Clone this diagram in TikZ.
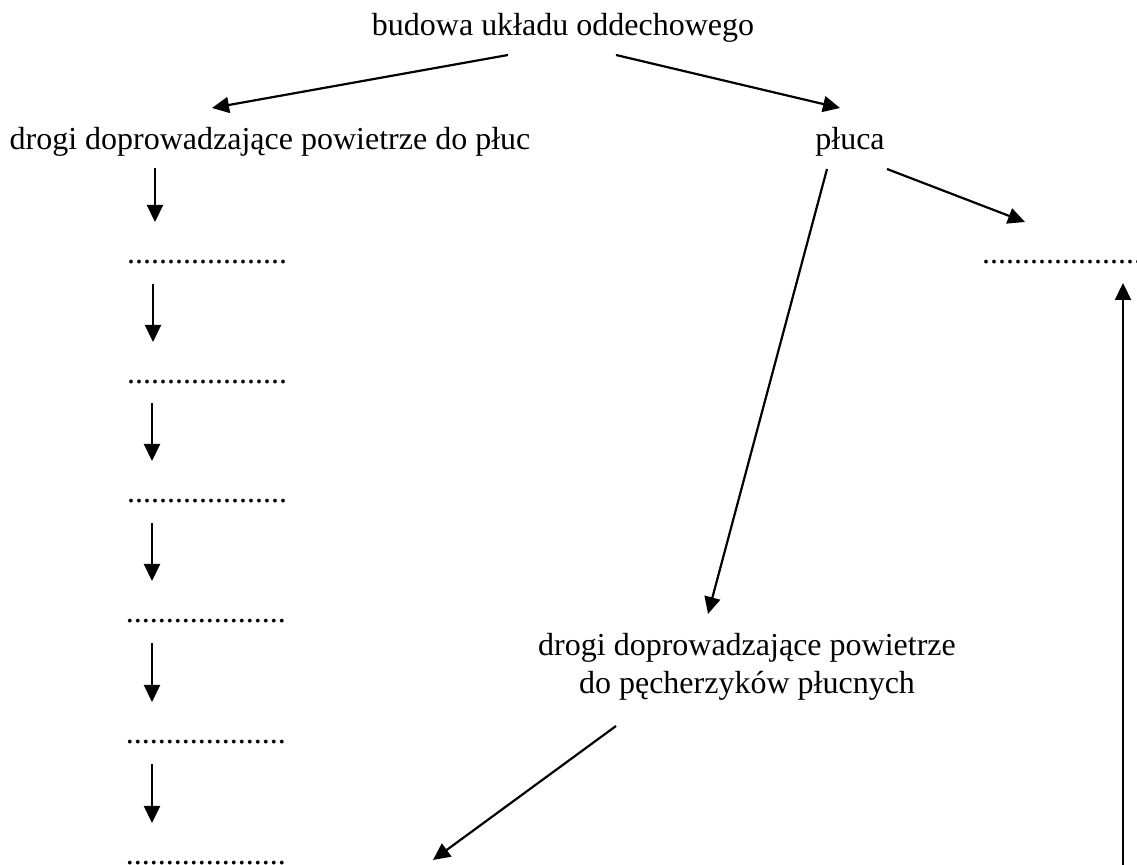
\documentclass[tikz,border=0pt]{standalone}
\usepackage{fontspec}
\setmainfont{Liberation Serif}
\usetikzlibrary{arrows.meta,calc}
\newcommand{\luka}{....................}

\begin{document}
\begin{tikzpicture}[->,
		>={Triangle[length=8.5pt,width=8pt]},
		x=0.5pt, y=-0.5pt,
		line width=1.1pt,
		font=\fontsize{16}{19}\selectfont,
		txtnode/.style={inner sep=0pt, anchor=base},
		luknode/.style={inner sep=0pt, anchor=base},
		twonode/.style={inner sep=0pt, align=center}]
		
		\useasboundingbox (0,0) rectangle (1137,865);
		
		\node[txtnode] (uklad) at (563,36) {budowa układu oddechowego};
		\node[txtnode] (drogi) at (270,150) {drogi doprowadzające powietrze do płuc};
		\node[txtnode] (pluca) at (850,150) {płuca};
		\node[luknode] (p1) at (1062,264) {\luka};
		\node[twonode] (drogip) at (747,667) {drogi doprowadzające powietrze\\do pęcherzyków płucnych};
		\coordinate (dol) at (433,860);
		\coordinate (brzeg) at (1123,865);
		
		\node[luknode] (d1) at (207,264) {\luka};
		\node[luknode] (d2) at (207,384) {\luka};
		\node[luknode] (d3) at (207,503) {\luka};
		\node[luknode] (d4) at (206,623) {\luka};
		\node[luknode] (d5) at (206,744) {\luka};
		\node[luknode] (d6) at (206,865) {\luka};
		
		\draw ($(uklad.base)+(-55,19)$) to ($(drogi.base)+(-58,-42)$);
		\draw ($(uklad.base)+(53,19)$) to ($(pluca.base)+(-10,-42)$);
		\draw ($(pluca.base)+(-23,19)$) to ($(drogip.center)+(-39,-53)$);
		\draw ($(pluca.base)+(37,19)$) to ($(p1.base)+(-37,-42)$);
		\draw (brzeg) to ($(p1.base)+(61,19)$);
		\draw ($(drogip.center)+(-131,59)$) to (dol);
		
		\draw ($(drogi.base)+(-115,18)$) to ($(d1.base)+(-52,-42)$);
		\draw ($(d1.base)+(-54,20)$) to ($(d2.base)+(-54,-42)$);
		\draw ($(d2.base)+(-55,19)$) to ($(d3.base)+(-55,-42)$);
		\draw ($(d3.base)+(-55,20)$) to ($(d4.base)+(-54,-42)$);
		\draw ($(d4.base)+(-54,20)$) to ($(d5.base)+(-54,-42)$);
		\draw ($(d5.base)+(-54,20)$) to ($(d6.base)+(-54,-42)$);
		
	\end{tikzpicture}
\end{document}
